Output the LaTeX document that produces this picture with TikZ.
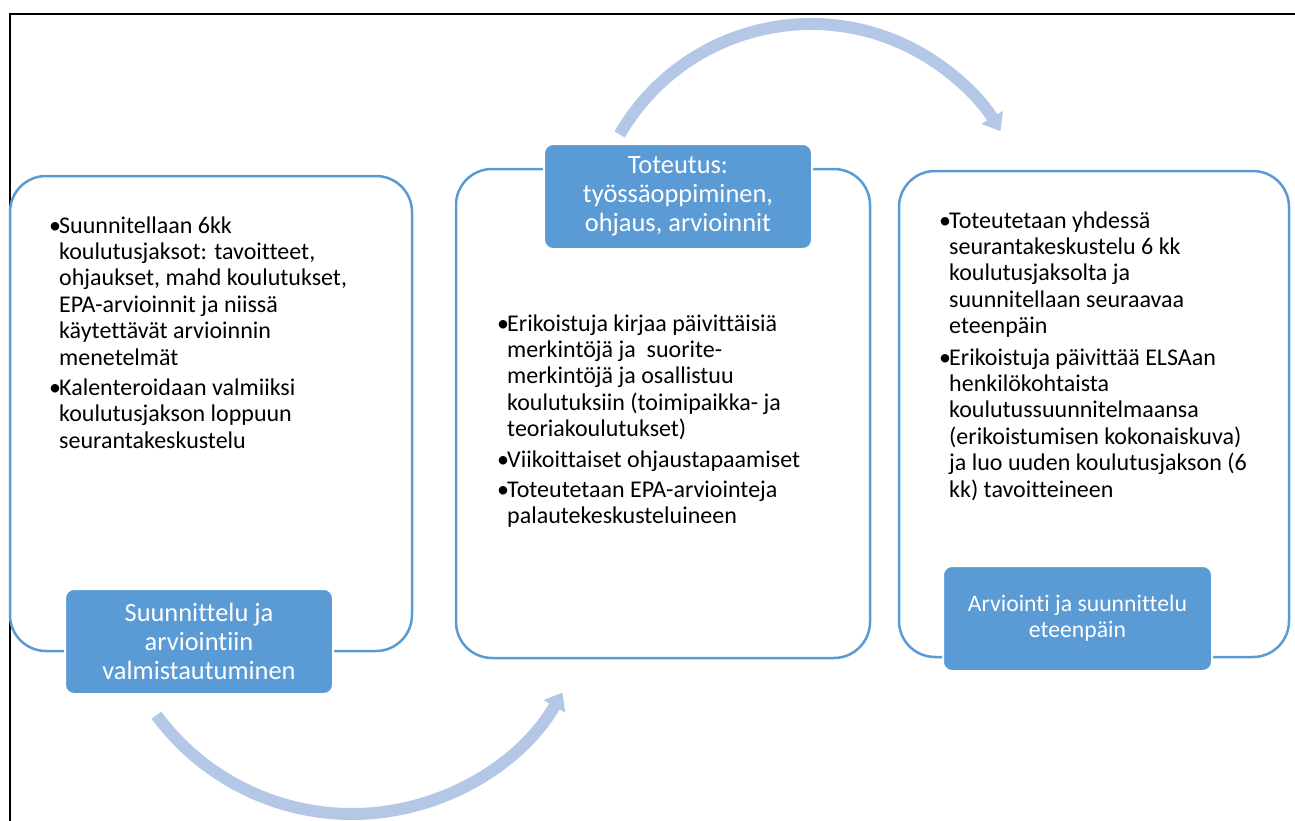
\documentclass[tikz,border=0pt]{standalone}
\usepackage{fontspec}
\setmainfont{Carlito}[Ligatures=NoCommon]
\usetikzlibrary{arrows.meta}
\definecolor{accent}{HTML}{5B9BD5}
\definecolor{arrowc}{HTML}{B4C7E7}
\newcommand{\bl}{\makebox[10pt][l]{•}}
\newcommand{\ind}{\hspace*{10pt}}
\newcommand{\bodyfont}{\fontsize{24}{26.4}\selectfont}
\begin{document}
\begin{tikzpicture}[x=1pt,y=1pt,
  bigbox/.style={draw=accent, line width=2.5pt, rounded corners=36pt},
  tagbox/.style={fill=accent, draw=white, line width=2pt, rounded corners=9pt,
    text=white, align=center, inner sep=0pt, anchor=north west},
  cyclearrow/.style={draw=arrowc, line width=12pt, -{Triangle[length=16pt,width=24pt]}},
  bodytext/.style={anchor=base west, inner sep=0pt}]
\useasboundingbox (0,0) rectangle (1295,-820);
\fill[white] (0,0) rectangle (1295,-820);
% outer frame
\draw[line width=2pt] (10,-830) -- (10,-14) -- (1300,-14);
% big boxes
\draw[bigbox] (10,-176) rectangle (412,-651);
\draw[bigbox] (456,-169) rectangle (870,-658);
\draw[bigbox] (899,-171) rectangle (1289,-657);
% labels
\node[tagbox, minimum width=268pt, minimum height=105pt,
  font=\fontsize{26.4}{29}\selectfont] (lab1) at (64,-588)
  {Suunnittelu ja\\arviointiin\\valmistautuminen};
\node[tagbox, minimum width=268pt, minimum height=105pt,
  font=\fontsize{26.4}{29}\selectfont] (lab2) at (543,-143)
  {Toteutus:\\työssäoppiminen,\\ohjaus, arvioinnit};
\node[tagbox, minimum width=269pt, minimum height=105pt,
  font=\fontsize{23.7}{26}\selectfont] (lab3) at (942,-565)
  {Arviointi ja suunnittelu\\eteenpäin};
% body texts
\node[bodytext] (txt1) at (49,-233) {\parbox[t]{380pt}{\bodyfont
\bl Suunnitellaan 6kk\\
\ind koulutusjaksot: tavoitteet,\\
\ind ohjaukset, mahd koulutukset,\\
\ind EPA-arvioinnit ja niissä\\
\ind käytettävät arvioinnin\\
\ind menetelmät\\[4pt]
\bl Kalenteroidaan valmiiksi\\
\ind koulutusjakson loppuun\\
\ind seurantakeskustelu}};
\node[bodytext] (txt2) at (497,-331) {\parbox[t]{380pt}{\bodyfont
\bl Erikoistuja kirjaa päivittäisiä\\
\ind merkintöjä ja~ suorite-\\
\ind merkintöjä ja osallistuu\\
\ind koulutuksiin (toimipaikka- ja\\
\ind teoriakoulutukset)\\[4pt]
\bl Viikoittaiset ohjaustapaamiset\\[4pt]
\bl Toteutetaan EPA-arviointeja\\
\ind palautekeskusteluineen}};
\node[bodytext] (txt3) at (939,-228) {\parbox[t]{380pt}{\bodyfont
\bl Toteutetaan yhdessä\\
\ind seurantakeskustelu 6 kk\\
\ind koulutusjaksolta ja\\
\ind suunnitellaan seuraavaa\\
\ind eteenpäin\\[5pt]
\bl Erikoistuja päivittää ELSAan\\
\ind henkilökohtaista\\
\ind koulutussuunnitelmaansa\\
\ind (erikoistumisen kokonaiskuva)\\
\ind ja luo uuden koulutusjakson (6\\
\ind kk) tavoitteineen}};
% cycle arrows
\coordinate (c1) at (352,-571);
\coordinate (c2) at (811,-245);
\draw[cyclearrow] ([shift={(216.4:243)}]c1) arc[start angle=216.4, end angle=330, radius=243];
\draw[cyclearrow] ([shift={(150:221)}]c2) arc[start angle=150, end angle=31, radius=221];
\end{tikzpicture}
\end{document}
